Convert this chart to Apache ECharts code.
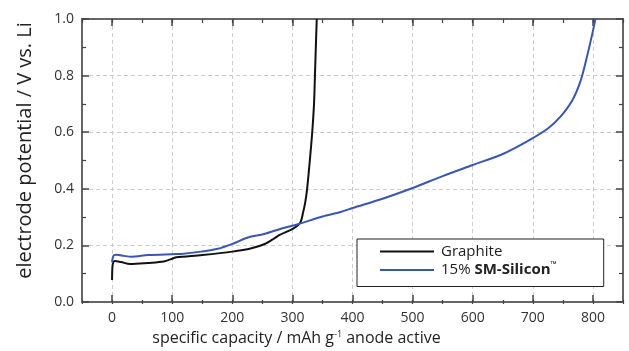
<!DOCTYPE html>
<html>
<head>
<meta charset="utf-8">
<script src="https://cdn.jsdelivr.net/npm/echarts@6/dist/echarts.min.js"></script>
<style>
  html, body { margin: 0; padding: 0; background: #fff; }
  #chart { width: 629px; height: 351px; }
</style>
</head>
<body>
<div id="chart"></div>
<script>
// capacity (mAh/g) / potential (V)
const graphite = [
  [0, 0.078], [0.5, 0.12], [1.5, 0.137], [4, 0.145], [15, 0.141], [30, 0.134],
  [60, 0.138], [86, 0.143], [100, 0.153], [107, 0.158], [150, 0.166], [200, 0.178],
  [232, 0.19], [254, 0.205], [270, 0.225], [278, 0.236], [302, 0.26], [313, 0.28],
  [318, 0.318], [321.5, 0.354], [324.5, 0.4], [329, 0.5], [333, 0.6], [336, 0.7],
  [337.5, 0.8], [339, 0.9], [340.5, 1.0]
];
const smSilicon = [
  [0, 0.14], [1, 0.155], [3, 0.165], [8, 0.167], [20, 0.163], [32, 0.16],
  [60, 0.166], [100, 0.169], [115, 0.17], [148, 0.178], [176, 0.188], [201, 0.206],
  [226, 0.228], [253, 0.24], [281, 0.259], [309, 0.275], [350, 0.302], [380, 0.318],
  [400, 0.332], [450, 0.365], [500, 0.403], [550, 0.445], [600, 0.484], [650, 0.523],
  [695, 0.573], [725, 0.613], [746, 0.655], [766, 0.714], [780, 0.785], [791, 0.875],
  [800, 0.958], [806, 1.02]
];
const xTicks = [0, 100, 200, 300, 400, 500, 600, 700, 800];
const seriesNames = ["Graphite", "15% SM-Silicon™"];

const font = "Open Sans";
const axisCol = "#666";
const gridRect = { left: 82, right: 6, top: 19, bottom: 47 };

const chart = echarts.init(document.getElementById("chart"));

const majorX = (pos, labels) => ({
  type: "value",
  gridIndex: 0,
  position: pos,
  min: -50,
  max: 850,
  interval: 50,
  axisLine: { show: true, onZero: false, lineStyle: { color: axisCol, width: 2 } },
  axisTick: { show: true, inside: true, length: 7, customValues: xTicks, lineStyle: { color: "#444", width: 1.5 } },
  axisLabel: {
    show: labels,
    customValues: xTicks,
    margin: 9,
    fontFamily: font,
    fontSize: 14,
    color: "#333",
  },
  splitLine: { show: labels, lineStyle: { color: "#ccc", type: [4, 3], width: 1 } },
});

const minorX = (pos) => ({
  type: "value",
  gridIndex: 1,
  position: pos,
  min: -50,
  max: 850,
  interval: 50,
  axisLine: { show: false, onZero: false },
  axisTick: { show: true, inside: true, length: 4, lineStyle: { color: "#444", width: 1.2 } },
  axisLabel: { show: false },
  splitLine: { show: false },
});

const majorY = (pos, labels) => ({
  type: "value",
  gridIndex: 0,
  position: pos,
  min: 0,
  max: 1,
  interval: 0.2,
  axisLine: { show: true, onZero: false, lineStyle: { color: axisCol, width: 2 } },
  axisTick: { show: true, inside: true, length: 7, lineStyle: { color: "#444", width: 1.5 } },
  minorTick: { show: true, splitNumber: 2, length: 4, lineStyle: { color: "#444", width: 1.2 } },
  axisLabel: {
    show: labels,
    margin: 8,
    fontFamily: font,
    fontSize: 14,
    color: "#333",
    formatter: (v) => v.toFixed(1),
  },
  splitLine: { show: labels, lineStyle: { color: "#ccc", type: [4, 3], width: 1 } },
});

const xMain = majorX("bottom", true);
xMain.name = "{t|specific capacity / mAh g}{s|-1}{t| anode active}";
xMain.nameLocation = "middle";
xMain.nameGap = 28;
xMain.nameTextStyle = {
  padding: [0, 112, 0, 0],
  rich: {
    t: { fontFamily: font, fontSize: 16, color: "#222" },
    s: { fontFamily: font, fontSize: 9, color: "#222", verticalAlign: "top", padding: [0, 0, 6, 0] },
  },
};

const yMain = majorY("left", true);
yMain.name = "electrode potential / V vs. Li";
yMain.nameLocation = "middle";
yMain.nameGap = 47;
yMain.nameTextStyle = { fontFamily: font, fontSize: 20, color: "#222", padding: [0, 0, 0, 20] };

const option = {
  animation: false,
  backgroundColor: "#fff",
  grid: [Object.assign({}, gridRect), Object.assign({}, gridRect)],
  xAxis: [xMain, majorX("top", false), minorX("bottom"), minorX("top")],
  yAxis: [yMain, majorY("right", false), { type: "value", gridIndex: 1, show: false, min: 0, max: 1 }],
  legend: {
    orient: "vertical",
    left: 357,
    top: 239,
    padding: [5, 47, 9, 23],
    itemGap: 2,
    itemWidth: 54,
    itemHeight: 2,
    icon: "rect",
    borderColor: "#222",
    borderWidth: 1,
    backgroundColor: "#fff",
    data: seriesNames,
    formatter: (name) => (name === seriesNames[1] ? "{n|15% }{b|SM-Silicon}{s|™}" : "{n|" + name + "}"),
    textStyle: {
      rich: {
        n: { fontFamily: font, fontSize: 15, color: "#222", lineHeight: 18, padding: [0, 0, 0, 2] },
        b: { fontFamily: font, fontSize: 15, fontWeight: "bold", color: "#222", lineHeight: 18 },
        s: { fontFamily: font, fontSize: 8, fontWeight: "bold", color: "#222", verticalAlign: "top", lineHeight: 18 },
      },
    },
  },
  series: [
    {
      name: seriesNames[0],
      type: "line",
      xAxisIndex: 0,
      yAxisIndex: 0,
      data: graphite,
      showSymbol: false,
      smooth: 0.3,
      clip: true,
      lineStyle: { color: "#111", width: 2 },
      itemStyle: { color: "#111" },
    },
    {
      name: seriesNames[1],
      type: "line",
      xAxisIndex: 0,
      yAxisIndex: 0,
      data: smSilicon,
      showSymbol: false,
      smooth: 0.3,
      clip: true,
      lineStyle: { color: "#3a56b0", width: 2 },
      itemStyle: { color: "#3a56b0" },
    },
  ],
};

chart.setOption(option);
</script>
</body>
</html>
